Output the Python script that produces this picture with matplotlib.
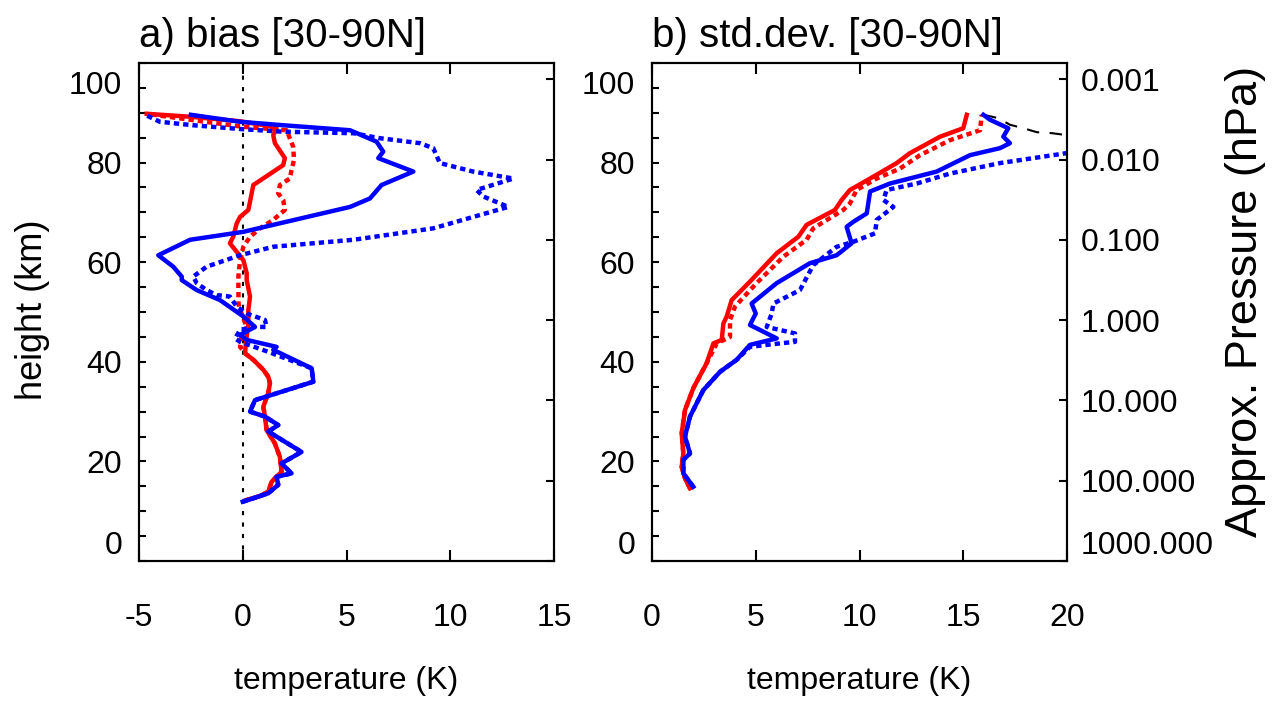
import numpy as np
import matplotlib.pyplot as plt
from matplotlib.transforms import ScaledTranslation

plt.rcParams['font.family'] = ['Liberation Sans', 'DejaVu Sans']
plt.rcParams['axes.unicode_minus'] = False

# ---- panel a: temperature bias profiles (K) vs height (km) ----
z_bias_red = [12.2, 13.0, 13.9, 15.9, 16.9, 17.9, 20.9, 23.6, 26.3, 29.0, 31.0, 33.7, 35.7,
              37.0, 38.4, 40.4, 41.7, 43.7, 47.7, 50.4, 53.1, 56.4, 57.8, 60.4, 63.8, 65.1,
              67.8, 69.1, 70.5, 75.5, 79.5, 80.9, 83.9, 85.5, 86.9, 87.4, 88.3, 89.2, 89.8]
t_bias_red = [0.15, 0.8, 1.23, 1.39, 1.62, 1.87, 1.79, 1.55, 1.15, 1.07, 0.99, 1.23, 1.31,
              1.23, 0.99, 0.51, 0.11, 0.15, 0.27, 0.27, 0.35, 0.19, 0.19, 0.03, -0.62, -0.46,
              -0.29, -0.13, 0.27, 0.51, 1.95, 2.03, 1.55, 1.47, 1.63, 1.2, -0.13, -2.5, -4.63]

z_bias_red_dot = [12.2, 13.0, 13.9, 15.9, 16.9, 17.9, 20.9, 23.6, 26.3, 29.0, 31.0, 33.7, 35.7,
                  37.0, 38.4, 40.4, 41.7, 43.0, 45.7, 47.0, 49.0, 51.5, 55.1, 57.1, 60.4, 63.1,
                  65.1, 66.8, 68.5, 70.5, 72.5, 73.8, 75.5, 76.8, 78.5, 80.5, 83.2, 86.5, 87.2,
                  88.3, 89.8]
t_bias_red_dot = [0.15, 0.8, 1.23, 1.39, 1.62, 1.87, 1.79, 1.55, 1.15, 1.07, 0.99, 1.23, 1.31,
                  1.23, 0.99, 0.51, 0.11, -0.13, -0.05, 0.19, 0.0, -0.2, -0.21, -0.21, -0.13, 0.03,
                  0.35, 0.83, 1.47, 2.03, 1.95, 1.71, 1.79, 2.27, 2.35, 2.47, 2.43, 2.11, 0.0,
                  -2.0, -4.63]

z_bias_blue = [11.9, 13.6, 15.3, 16.9, 17.6, 19.6, 21.9, 26.0, 27.3, 29.0, 30.0, 32.3, 36.0,
               38.7, 42.4, 43.0, 44.4, 45.4, 47.0, 49.1, 52.4, 54.4, 56.4, 57.1, 59.1, 61.4,
               64.5, 66.1, 71.1, 72.8, 75.5, 78.2, 80.9, 82.2, 84.2, 86.5, 87.5, 88.2, 89.6]
t_bias_blue = [0.0, 1.23, 1.71, 1.63, 2.35, 1.87, 2.83, 1.23, 1.71, 1.07, 0.35, 0.59, 3.40,
               3.32, 1.47, 1.63, 0.19, -0.13, 0.59, 0.03, -1.10, -2.22, -2.94, -2.94, -3.35, -4.07,
               -2.54, 0.03, 5.17, 6.13, 6.69, 8.22, 6.53, 6.77, 6.45, 5.17, 1.95, -0.13, -2.5]

z_bias_blue_dot = [11.9, 13.6, 15.3, 16.9, 17.6, 19.6, 21.9, 26.0, 27.3, 29.0, 30.0, 32.3, 36.0,
                   38.7, 42.0, 44.0, 44.7, 46.4, 47.0, 47.0, 48.4, 49.7, 51.1, 53.1, 53.4, 54.4,
                   55.8, 57.1, 59.1, 61.4, 63.1, 64.5, 66.8, 71.1, 73.2, 74.5, 76.8, 78.2, 79.9,
                   82.9, 83.9, 84.9, 85.9, 86.2, 86.7, 87.5, 88.2, 89.6]
t_bias_blue_dot = [0.0, 1.23, 1.71, 1.63, 2.35, 1.87, 2.83, 1.23, 1.71, 1.07, 0.35, 0.59, 3.40,
                   3.32, 1.23, -0.13, -0.37, -0.13, 0.51, 1.15, 1.07, 0.19, -0.29, -0.62, -1.26, -1.74,
                   -2.22, -2.39, -1.74, -0.13, 1.47, 5.33, 9.18, 12.8, 11.59, 11.27, 13.04, 11.1, 9.5,
                   9.18, 8.54, 6.61, 5.33, 1.95, 0.0, -2.39, -4.0, -4.7]

# ---- panel b: standard deviation profiles (K) ----
z_std_red = [14.6, 16.5, 18.9, 21.6, 25.6, 30.3, 34.7, 39.7, 43.7, 44.4, 47.7, 49.1, 52.4,
             56.1, 61.8, 65.1, 67.5, 70.5, 72.5, 74.5, 76.8, 79.9, 81.9, 85.2, 86.9, 89.6]
s_std_red = [1.83, 1.6, 1.43, 1.51, 1.43, 1.59, 1.99, 2.63, 2.96, 3.36, 3.44, 3.60, 3.84,
             4.72, 6.01, 7.05, 7.45, 8.82, 9.14, 9.54, 10.51, 11.79, 12.43, 13.88, 15.0, 15.17]

z_std_red_dot = [14.6, 16.5, 18.9, 21.6, 25.6, 30.3, 34.7, 39.7, 43.7, 45.0, 48.4, 51.1, 55.8,
                 61.1, 64.5, 66.8, 70.5, 71.8, 74.5, 76.8, 78.8, 81.5, 84.5, 86.5, 89.6]
s_std_red_dot = [1.83, 1.6, 1.43, 1.51, 1.43, 1.59, 1.99, 2.63, 3.12, 3.76, 3.76, 4.0, 5.04,
                 6.33, 7.45, 7.77, 9.22, 9.54, 9.86, 10.83, 11.95, 12.92, 14.36, 15.81, 15.89]

z_std_blue = [14.9, 17.6, 20.3, 21.6, 25.0, 29.0, 34.3, 38.0, 40.4, 43.4, 44.7, 47.4, 49.7,
              51.7, 55.8, 59.8, 61.4, 63.8, 67.1, 68.1, 69.8, 74.2, 75.8, 78.2, 81.5, 82.9,
              83.9, 85.2, 86.9, 88.6, 89.6]
s_std_blue = [1.99, 1.51, 1.51, 1.83, 1.59, 1.83, 2.47, 3.28, 4.08, 4.72, 6.01, 4.72, 5.0,
              4.80, 6.01, 7.61, 8.9, 9.62, 9.38, 9.70, 10.35, 10.51, 11.47, 13.72, 15.33, 16.77,
              17.25, 16.93, 17.17, 16.29, 15.97]

z_std_blue_dot = [14.9, 17.6, 20.3, 21.6, 25.0, 29.0, 34.3, 38.0, 40.4, 43.0, 43.7, 44.0, 45.7,
                  47.0, 49.7, 51.7, 54.4, 59.4, 63.1, 64.1, 65.8, 68.5, 71.1, 72.5, 74.5, 75.8,
                  77.8, 79.9, 81.9, 83.0]
s_std_blue_dot = [1.99, 1.51, 1.51, 1.83, 1.59, 1.83, 2.47, 3.28, 4.08, 4.72, 6.17, 6.89, 6.89,
                  5.53, 5.77, 5.85, 7.13, 7.77, 8.9, 9.70, 10.75, 10.83, 11.63, 11.15, 11.31, 12.76,
                  14.36, 16.77, 19.98, 21.5]

z_std_ref = [89.6, 88.9, 87.6, 86.9, 86.1, 85.9, 85.5, 85.2]
s_std_ref = [16.0, 16.7, 17.25, 17.9, 18.55, 19.3, 20.0, 21.0]

# pressure levels for the right-hand axis (log-pressure height, H = 7 km)
p_levels = [1000.0, 100.0, 10.0, 1.0, 0.1, 0.01, 0.001]
z_levels = [7.0 * np.log(1000.0 / p) for p in p_levels]

BLUE = '#0000ff'
RED = '#ff0000'
LW = 3.2
DOT = (0, (1.2, 0.9))
TICK_FS = 23

fig = plt.figure(figsize=(12.73, 7.02), dpi=100)
ax1 = fig.add_axes([139 / 1273, 141 / 702, 415 / 1273, 498 / 702])
ax2 = fig.add_axes([652 / 1273, 141 / 702, 415 / 1273, 498 / 702])


def style_panel(ax, xlim, xticks, title, pressure_labels):
    ax.set_xlim(*xlim)
    ax.set_ylim(0, 100)
    ax.set_xticks(xticks)
    ax.set_yticks(np.arange(0, 101, 20))
    ax.set_yticks(np.arange(0, 101, 5), minor=True)
    ax.tick_params(axis='x', which='both', direction='in', top=True, length=8, width=1.5,
                   pad=30, labelsize=TICK_FS)
    ax.tick_params(axis='y', which='both', direction='in', length=5, width=1.5,
                   pad=12, labelsize=TICK_FS)
    for s in ax.spines.values():
        s.set_linewidth(1.5)
    ax.set_xlabel('temperature (K)', fontsize=23, va='center')
    ax.xaxis.set_label_coords(0.5, (561 - 681) / 498)
    ax.set_title(title, loc='left', fontsize=29, y=(561 - 36) / 498, va='center', pad=0)

    # end labels on the height axis sit inside the axis range
    yt = ax.yaxis.get_major_ticks()
    yt[0].label1.set_va('bottom')
    yt[-1].label1.set_va('top')
    yt[-1].label1.set_transform(yt[-1].label1.get_transform()
                                + ScaledTranslation(0, -0.08, fig.dpi_scale_trans))

    pax = ax.twinx()
    pax.set_ylim(0, 100)
    pax.set_yticks(z_levels)
    pax.tick_params(axis='y', direction='in', length=6, width=1.5, pad=10, labelsize=TICK_FS)
    if pressure_labels:
        pax.set_yticklabels(['%.3f' % p for p in p_levels])
        pax.yaxis.get_major_ticks()[0].label2.set_va('bottom')
    else:
        pax.set_yticklabels([])
    for s in pax.spines.values():
        s.set_linewidth(1.5)
    return pax


# panel a
ax1.axvline(0, color='k', lw=1.5, ls=(0, (2, 3.5)))
ax1.plot(t_bias_red_dot, z_bias_red_dot, color=RED, lw=LW, ls=DOT)
ax1.plot(t_bias_red, z_bias_red, color=RED, lw=LW)
ax1.plot(t_bias_blue_dot, z_bias_blue_dot, color=BLUE, lw=LW, ls=DOT)
ax1.plot(t_bias_blue, z_bias_blue, color=BLUE, lw=LW)
style_panel(ax1, (-5, 15), [-5, 0, 5, 10, 15], 'a) bias [30-90N]', False)
ax1.set_ylabel('height (km)', fontsize=26, va='center')
ax1.yaxis.set_label_coords((33 - 139) / 415, (561 - 310) / 498)

# panel b
ax2.plot(s_std_ref, z_std_ref, color='k', lw=1.5, ls=(0, (6, 5)))
ax2.plot(s_std_red_dot, z_std_red_dot, color=RED, lw=LW, ls=DOT)
ax2.plot(s_std_red, z_std_red, color=RED, lw=LW)
ax2.plot(s_std_blue_dot, z_std_blue_dot, color=BLUE, lw=LW, ls=DOT)
ax2.plot(s_std_blue, z_std_blue, color=BLUE, lw=LW)
pax2 = style_panel(ax2, (0, 20), [0, 5, 10, 15, 20], 'b) std.dev. [30-90N]', True)
pax2.set_ylabel('Approx. Pressure (hPa)', fontsize=32.5, va='center')
pax2.yaxis.set_label_coords((1246 - 652) / 415, (561 - 301) / 498)

fig.savefig('out.png', dpi=100)
